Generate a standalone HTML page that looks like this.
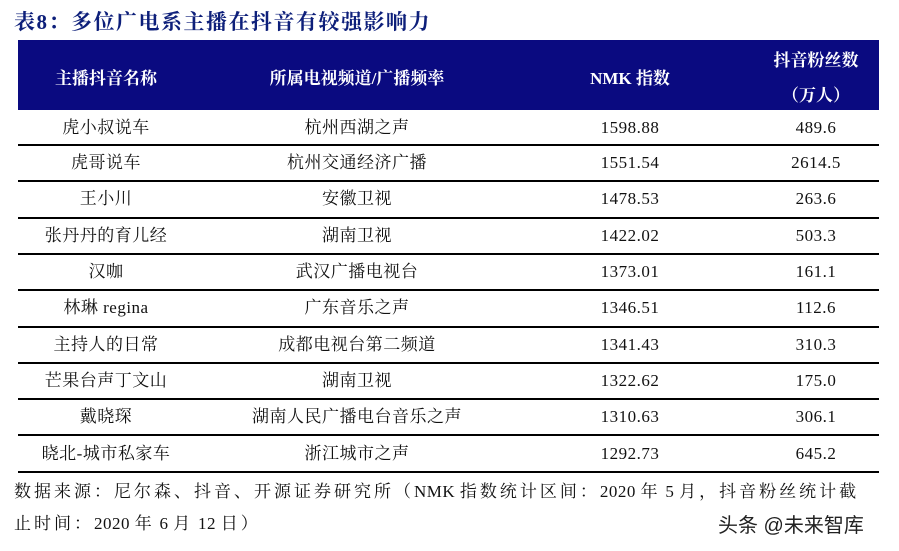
<!DOCTYPE html>
<html><head><meta charset="utf-8"><style>
body{margin:0;width:899px;height:551px;background:#fff;position:relative;overflow:hidden;font-family:"Liberation Serif","Noto Serif CJK SC",serif;}
.t{position:absolute;white-space:nowrap;}
#title{left:14px;top:6px;font-size:21px;font-weight:bold;color:#0d1f7a;letter-spacing:1.5px;}
#hdr{position:absolute;left:18px;top:40px;width:861px;height:70px;background:#0a0a80;}
.h{color:#fff;font-weight:bold;font-size:17px;transform:translateX(-50%);}
.c{font-size:17px;color:#111;transform:translateX(-50%);letter-spacing:0.5px;line-height:22px;height:22px;}
.ln{position:absolute;left:18px;width:861px;height:2px;background:#000;}
.f{font-size:17px;color:#111;left:14px;letter-spacing:3px;line-height:22px;}
.f span{letter-spacing:0.5px;}
</style></head><body>
<div class="t" id="title">表8：多位广电系主播在抖音有较强影响力</div>
<div id="hdr"></div>
<div class="t h" style="left:106px;top:64px">主播抖音名称</div>
<div class="t h" style="left:357px;top:64px">所属电视频道/广播频率</div>
<div class="t h" style="left:630px;top:64px">NMK 指数</div>
<div class="t h" style="left:816px;top:46px">抖音粉丝数</div>
<div class="t h" style="left:816px;top:81px">（万人）</div>
<div id="rows"></div>
<div class="t f" style="top:481px">数据来源：尼尔森、抖音、开源证券研究所（<span>NMK </span>指数统计区间：<span>2020 </span>年<span> 5 </span>月，抖音粉丝统计截</div>
<div class="t f" style="top:513px">止时间：<span>2020 </span>年<span> 6 </span>月<span> 12 </span>日）</div>
<div class="t" style="left:718px;top:509px;font-family:'Liberation Sans','Noto Sans CJK SC',sans-serif;font-size:20px;color:#222">头条 @未来智库</div>
<script>
var d=[["虎小叔说车","杭州西湖之声","1598.88","489.6"],["虎哥说车","杭州交通经济广播","1551.54","2614.5"],["王小川","安徽卫视","1478.53","263.6"],["张丹丹的育儿经","湖南卫视","1422.02","503.3"],["汉咖","武汉广播电视台","1373.01","161.1"],["林琳 regina","广东音乐之声","1346.51","112.6"],["主持人的日常","成都电视台第二频道","1341.43","310.3"],["芒果台声丁文山","湖南卫视","1322.62","175.0"],["戴晓琛","湖南人民广播电台音乐之声","1310.63","306.1"],["晓北-城市私家车","浙江城市之声","1292.73","645.2"]];
var xs=[106,357,630,816],h="";
for(var i=0;i<10;i++){var tp=(i==0)?110:145+(i-1)*36.3;var bt=145+i*36.3;var cy=Math.round((tp+bt)/2-11);
for(var j=0;j<4;j++)h+='<div class="t c" style="left:'+xs[j]+'px;top:'+cy+'px">'+d[i][j]+'</div>';
h+='<div class="ln" style="top:'+Math.round(bt-1)+'px"></div>';}
document.getElementById('rows').innerHTML=h;
</script>
</body></html>
